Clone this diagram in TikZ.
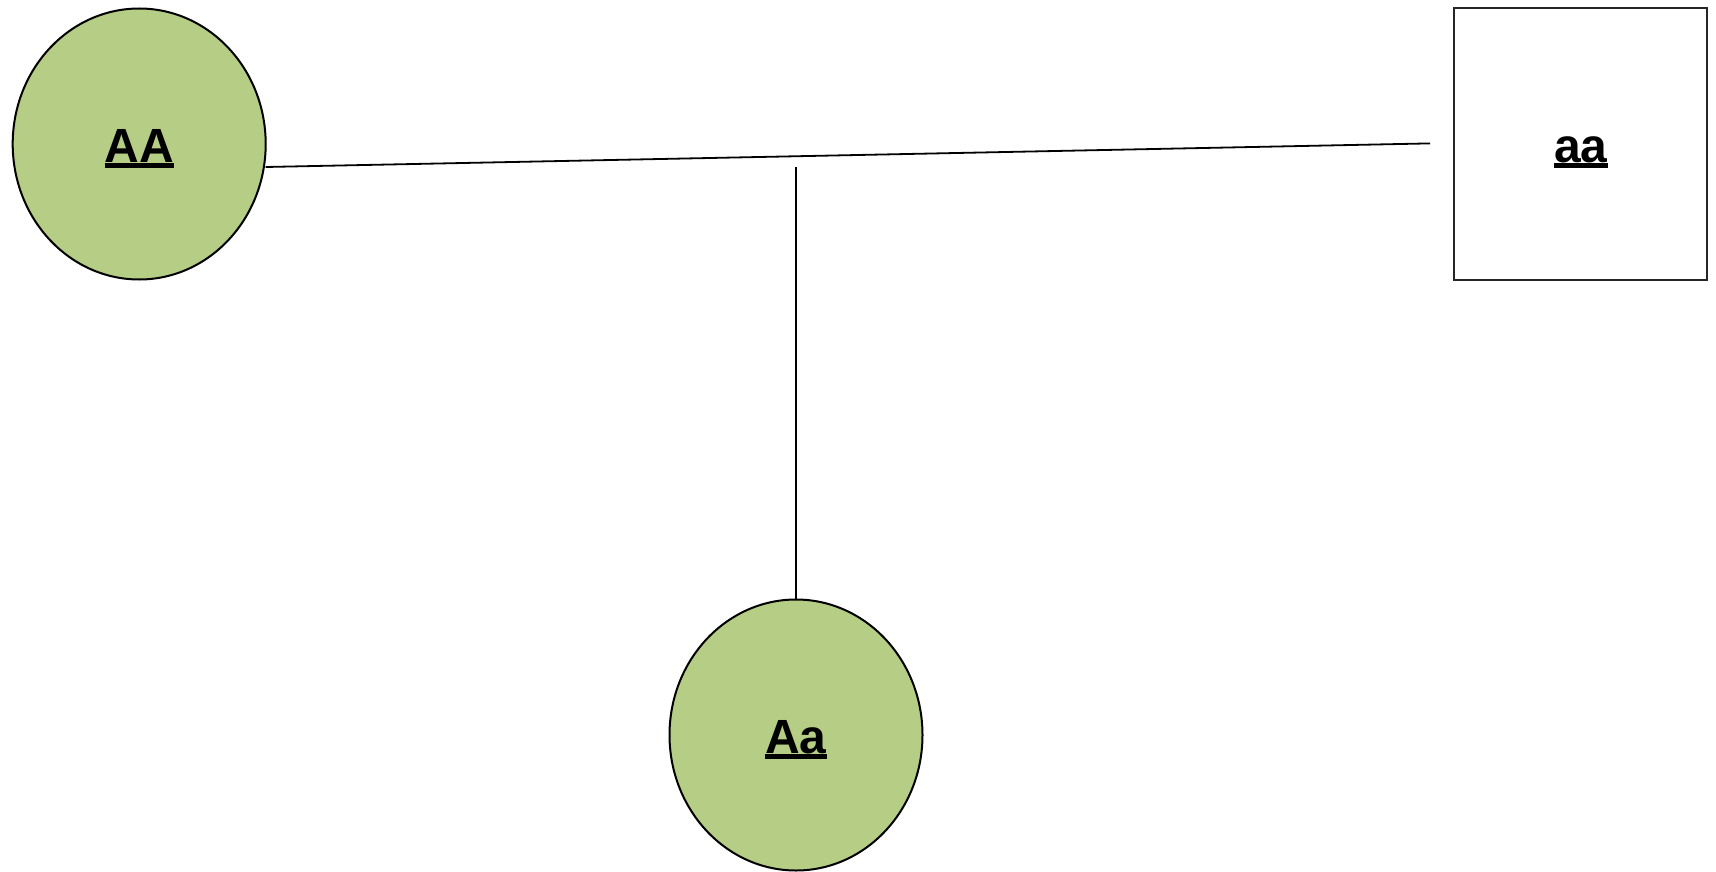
\documentclass[tikz,border=0pt]{standalone}
\usepackage{fontspec}
\setmainfont{Liberation Sans}
\usetikzlibrary{shapes.geometric}
\definecolor{genegreen}{HTML}{B5CD84}
\newcommand\ulbox[1]{\setbox0\hbox{#1}\rlap{\vrule height -0.6pt depth 5.6pt width \wd0}\box0}
\tikzset{
  gene/.style={ellipse, draw=black, line width=2pt, fill=genegreen,
    minimum width=253pt, minimum height=271pt, inner sep=0pt},
  boxgene/.style={rectangle, draw=black!85, line width=2pt, fill=white,
    minimum width=253pt, minimum height=271pt, inner sep=0pt},
  lbl/.style={font=\fontsize{48}{56}\selectfont\bfseries, inner sep=0pt, anchor=base},
  link/.style={line width=1.8pt, draw=black}
}
\begin{document}
\begin{tikzpicture}[x=1pt,y=1pt]
\useasboundingbox (0,0) rectangle (1716,-872);
\node[gene] (AA) at (139.2,-144) {};
\node[boxgene] (aa) at (1580.8,-144) {};
\node[gene] (Aa) at (796,-735) {};
\node[lbl] (tAA) at ([yshift=-18.6pt]AA.center) {\ulbox{AA}};
\node[lbl] (taa) at ([yshift=-18.6pt]aa.center) {\ulbox{aa}};
\node[lbl] (tAa) at ([yshift=-18.4pt]Aa.center) {\ulbox{Aa}};
\coordinate (lineend) at (1430,-143.4);
\coordinate (mid) at (796,-167.3);
\draw[link] ([yshift=-23pt,xshift=-1pt]AA.east) -- (lineend);
\draw[link] (mid) -- (Aa.north);
\end{tikzpicture}
\end{document}
